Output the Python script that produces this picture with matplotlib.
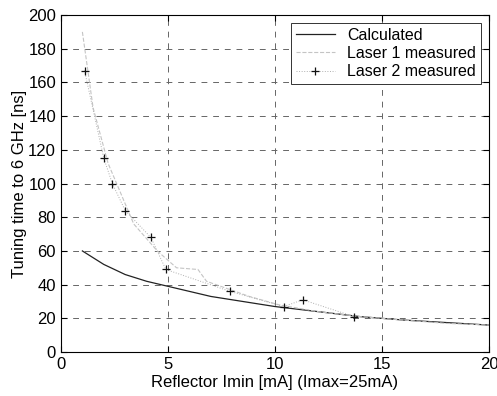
import matplotlib
matplotlib.use('Agg')
import matplotlib.pyplot as plt
from matplotlib.ticker import MultipleLocator

plt.rcParams['font.family'] = ['Liberation Sans', 'DejaVu Sans']

# data
calc_x = [1, 2, 3, 4, 5, 6, 7, 8, 9, 10, 12, 14, 16, 18, 20]
calc_y = [60, 52, 46, 42, 39, 36, 33, 31, 29, 27, 24, 21, 19, 17.5, 16]

laser1_x = [1.0, 1.5, 2.2, 3.4, 4.5, 5.4, 6.4, 6.8, 8.8, 10.2, 12, 14, 16, 18, 20]
laser1_y = [190, 145, 112, 76, 60, 50, 49, 42, 33, 28, 24, 21, 19, 17, 16]

laser2_x = [1.1, 2.0, 2.4, 3.0, 4.2, 4.9, 7.9, 10.4, 11.3, 13.7]
laser2_y = [167, 115, 100, 84, 68, 49, 36, 27, 31, 21]

fig = plt.figure(figsize=(4.97, 3.96), dpi=100)
ax = fig.add_axes([0.1227, 0.111, 0.8613, 0.851])

ax.plot(calc_x, calc_y, c='#222222', lw=0.9, label='Calculated')
ax.plot(laser1_x, laser1_y, c='#c4c4c4', lw=0.8, ls='--', label='Laser 1 measured')
ax.plot(laser2_x, laser2_y, c='#b0b0b0', lw=0.7, ls=':', marker='+', ms=5.5,
        mec='#111111', mew=0.9, label='Laser 2 measured')

ax.set_xlim(0, 20)
ax.set_ylim(0, 200)
ax.xaxis.set_major_locator(MultipleLocator(5))
ax.yaxis.set_major_locator(MultipleLocator(20))
ax.tick_params(direction='in', top=True, right=True, labelsize=12, length=4)
ax.grid(True, ls=(0, (6, 6)), c='#666666', lw=0.7)

ax.set_xlabel('Reflector Imin [mA] (Imax=25mA)', fontsize=12, labelpad=2)
ax.set_ylabel('Tuning time to 6 GHz [ns]', fontsize=12, labelpad=1)

leg = ax.legend(loc='upper right', fontsize=11.5, fancybox=False, edgecolor='#333333',
                framealpha=1, borderpad=0.3, labelspacing=0.2, handlelength=2.4,
                borderaxespad=0.5)
leg.get_frame().set_linewidth(0.7)

fig.savefig('out.png', dpi=100)
